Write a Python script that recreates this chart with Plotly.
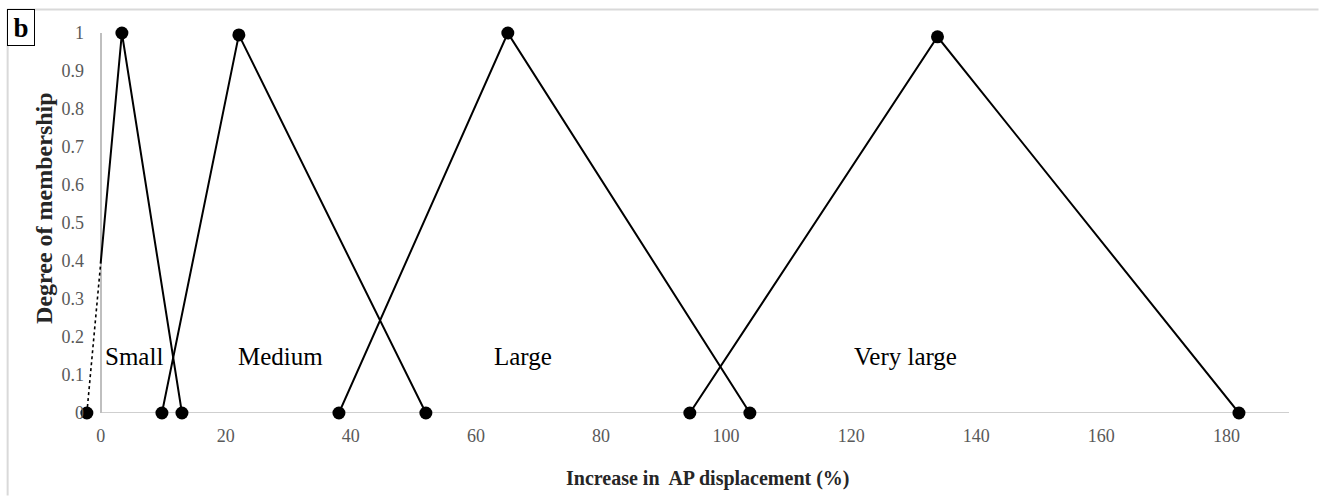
import plotly.graph_objects as go

# Triangular membership functions for the increase in AP displacement (%)
set_names = ["Small", "Medium", "Large", "Very large"]
x_start = [-2.2, 9.8, 38.1, 94.2]
x_peak = [3.4, 22.1, 65.1, 133.8]
x_end = [13.0, 52.0, 103.8, 182.0]
y_peak = [1.0, 0.995, 1.0, 0.99]

x_ticks = [0, 20, 40, 60, 80, 100, 120, 140, 160, 180]
y_ticks = [0, 0.1, 0.2, 0.3, 0.4, 0.5, 0.6, 0.7, 0.8, 0.9, 1]
y_tick_text = ["0", "0.1", "0.2", "0.3", "0.4", "0.5", "0.6", "0.7", "0.8", "0.9", "1"]

# where the set names are written inside the plot
label_x = [5.3, 28.7, 67.5, 128.7]
label_y = 0.148

W, H = 1319, 496
X_MIN, X_MAX = -2.5, 190
ML, MR, MT, MB = 84.9, 29.5, 33, 82.5
PW, PH = W - ML - MR, H - MT - MB
FONT = "Liberation Serif"
TICK_FONT = dict(family=FONT, size=18, color="#595959")


def px_x(px):
    return (px - ML) / PW


def px_y(py):
    return (H - MB - py) / PH


fig = go.Figure()

for name, xs, xp, xe, yp in zip(set_names, x_start, x_peak, x_end, y_peak):
    xs_line, ys_line = [xs, xp, xe], [0, yp, 0]
    if xs < 0:
        # part of the rising edge left of the y axis is drawn dotted
        y_cross = yp * (0 - xs) / (xp - xs)
        fig.add_trace(go.Scatter(
            x=[xs, 0], y=[0, y_cross], mode="lines",
            line=dict(color="black", width=1.6, dash="dot"),
            showlegend=False, hoverinfo="skip"))
        xs_line, ys_line = [0, xp, xe], [y_cross, yp, 0]
    fig.add_trace(go.Scatter(
        x=xs_line, y=ys_line, mode="lines",
        line=dict(color="black", width=2),
        name=name, showlegend=False))
    fig.add_trace(go.Scatter(
        x=[xs, xp, xe], y=[0, yp, 0], mode="markers",
        marker=dict(color="black", size=13),
        cliponaxis=False, name=name, showlegend=False))

for name, lx in zip(set_names, label_x):
    fig.add_annotation(x=lx, y=label_y, xref="x", yref="y", text=name,
                       showarrow=False, xanchor="center", yanchor="middle",
                       font=dict(family=FONT, size=25, color="black"))

# horizontal axis line, starting at the y axis
fig.add_shape(type="line", xref="x", yref="y", x0=0, x1=X_MAX, y0=0, y1=0,
              line=dict(color="#bfbfbf", width=1.5), layer="below")

# outer frame of the panel
fig.add_shape(type="line", xref="paper", yref="paper",
              x0=px_x(7), x1=px_x(W), y0=px_y(9.5), y1=px_y(9.5),
              line=dict(color="#d9d9d9", width=2))
fig.add_shape(type="line", xref="paper", yref="paper",
              x0=px_x(7.5), x1=px_x(7.5), y0=px_y(9), y1=px_y(H),
              line=dict(color="#d9d9d9", width=2))

# panel letter
fig.add_annotation(x=px_x(7), y=px_y(9), xref="paper", yref="paper",
                   text="<b>b</b>", showarrow=False,
                   xanchor="left", yanchor="top",
                   width=26, height=35, borderpad=0,
                   bordercolor="black", borderwidth=1, bgcolor="white",
                   font=dict(family=FONT, size=27, color="black"))

# axis titles
fig.add_annotation(x=px_x(708), y=px_y(479), xref="paper", yref="paper",
                   text="<b>Increase in  AP displacement (%)</b>", showarrow=False,
                   xanchor="center", yanchor="middle",
                   font=dict(family=FONT, size=20, color="#262626"))
fig.add_annotation(x=px_x(44), y=px_y(208), xref="paper", yref="paper",
                   text="<b>Degree of membership</b>", showarrow=False,
                   textangle=-90, xanchor="center", yanchor="middle",
                   font=dict(family=FONT, size=24, color="#262626"))

fig.update_layout(
    width=W, height=H,
    margin=dict(l=ML, r=MR, t=MT, b=MB, pad=0),
    paper_bgcolor="white", plot_bgcolor="white",
    font=dict(family=FONT, size=18, color="#595959"),
    xaxis=dict(range=[X_MIN, X_MAX], tickvals=x_ticks, showgrid=False,
               showline=False, zeroline=True, zerolinecolor="#bfbfbf",
               zerolinewidth=1.5, ticks="outside", ticklen=6,
               tickcolor="rgba(0,0,0,0)", tickfont=TICK_FONT),
    yaxis=dict(range=[0, 1], tickvals=y_ticks, ticktext=y_tick_text,
               showgrid=False, showline=False, zeroline=False,
               ticks="", tickfont=TICK_FONT),
)

fig.write_html("out.html")
